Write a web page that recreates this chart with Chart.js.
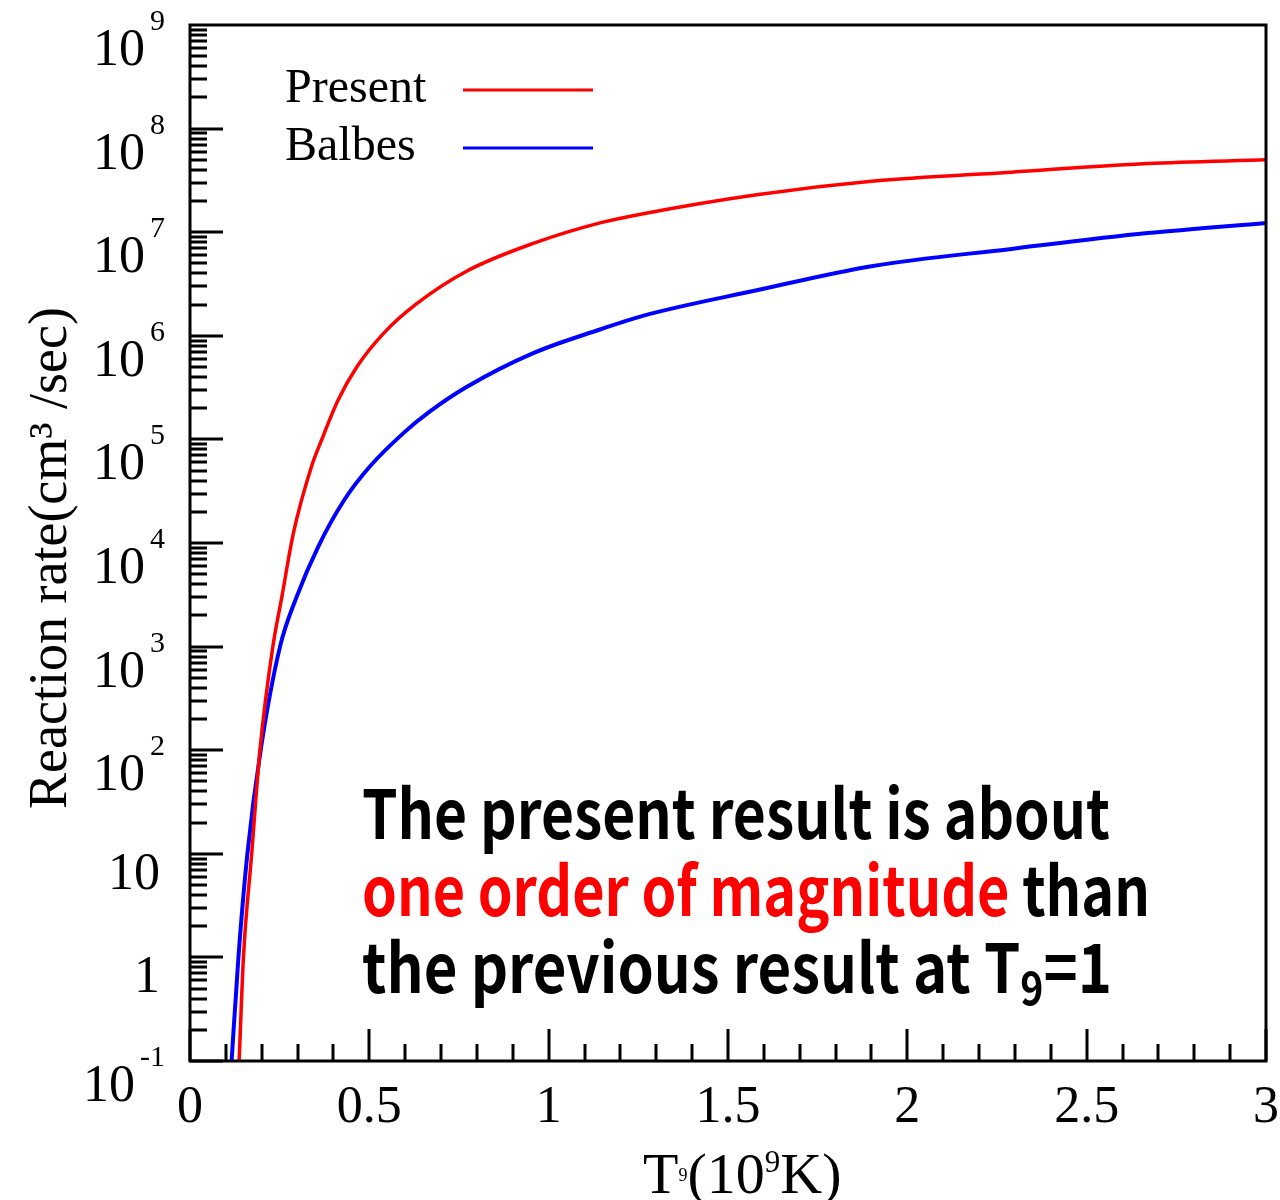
<!DOCTYPE html>
<html lang="en">
<head>
<meta charset="UTF-8">
<title>Reaction rate vs T9</title>
<script src="https://cdn.jsdelivr.net/npm/chart.js"></script>
<style>
  html, body { margin: 0; padding: 0; background: #fff; }
  #wrap { width: 1280px; height: 1200px; }
</style>
</head>
<body>
<div id="wrap"><canvas id="rateChart" width="1280" height="1200"></canvas></div>
<script>
  // values (T9 in 10^9 K, rate in cm3/sec)
  const presentT9   = [0.137, 0.149, 0.172, 0.195, 0.231, 0.256, 0.288, 0.339, 0.365, 0.413, 0.465, 0.539, 0.632, 0.771, 0.957, 1.143, 1.26, 1.58, 1.90, 2.29, 2.67, 3.0];
  const presentRate = [0.1, 1, 10, 100, 1000, 3000, 1.23e4, 5.5e4, 9.5e4, 2.4e5, 5.0e5, 1.05e6, 2.04e6, 4.2e6, 7.8e6, 1.23e7, 1.5e7, 2.3e7, 3.1e7, 3.8e7, 4.6e7, 5.0e7];
  const balbesT9    = [0.116, 0.135, 0.160, 0.197, 0.251, 0.297, 0.358, 0.430, 0.502, 0.595, 0.669, 0.771, 0.957, 1.143, 1.26, 1.58, 1.90, 2.29, 2.67, 3.0];
  const balbesRate  = [0.1, 1, 10, 100, 1000, 3.0e3, 9.3e3, 2.6e4, 5.5e4, 1.15e5, 1.86e5, 3.2e5, 6.8e5, 1.15e6, 1.55e6, 2.75e6, 4.7e6, 6.9e6, 9.8e6, 1.23e7];

  const seriesLabels = ['Present', 'Balbes'];
  const xTickLabels = ['0', '0.5', '1', '1.5', '2', '2.5', '3'];
  const yExponents = [-1, 0, 1, 2, 3, 4, 5, 6, 7, 8, 9];
  const xTitle = ['T', '9', '(10', '9', 'K)'];
  const yTitle = 'Reaction rate(cm³ /sec)';
  const noteLine1 = 'The present result is about';
  const noteLine2Red = 'one order of magnitude';
  const noteLine2 = ' than';
  const noteLine3 = 'the previous result at T';
  const noteSub = '9';
  const noteEnd = '=1';

  const SERIF = "'Liberation Serif', 'Times New Roman', serif";
  const GOTHIC = "'Noto Sans CJK JP', 'Noto Sans', sans-serif";

  function drawPow(ctx, e, y) {
    ctx.fillStyle = '#000';
    if (e === 0 || e === 1) {
      ctx.font = '52px ' + SERIF;
      ctx.textAlign = 'right';
      ctx.fillText(e === 0 ? '1' : '10', 160, y + 35);
      return;
    }
    const exp = String(e);
    ctx.font = '30px ' + SERIF;
    const ew = ctx.measureText(exp).width;
    ctx.textAlign = 'left';
    ctx.fillText(exp, 165 - ew, y + 5);
    ctx.font = '52px ' + SERIF;
    ctx.textAlign = 'right';
    ctx.fillText('10', 165 - ew - 5, y + 40);
  }

  const axesPlugin = {
    id: 'rootAxes',
    afterDatasetsDraw(chart) {
      const ctx = chart.ctx;
      const a = chart.chartArea;
      const xs = chart.scales.x, ys = chart.scales.y;
      ctx.save();
      ctx.strokeStyle = '#000';
      ctx.lineWidth = 3;
      ctx.strokeRect(a.left, a.top, a.right - a.left, a.bottom - a.top);

      // y ticks, inside, decades long
      ctx.beginPath();
      for (let e = -1; e <= 8; e++) {
        for (let m = 1; m <= 9; m++) {
          const y = Math.round(ys.getPixelForValue(m * Math.pow(10, e)));
          const len = m === 1 ? 33 : 17;
          ctx.moveTo(a.left, y);
          ctx.lineTo(a.left + len, y);
        }
      }
      // x ticks every 0.1
      for (let i = 0; i <= 30; i++) {
        const x = Math.round(xs.getPixelForValue(i / 10));
        const len = i % 5 === 0 ? 32 : 17;
        ctx.moveTo(x, a.bottom);
        ctx.lineTo(x, a.bottom - len);
      }
      ctx.stroke();
      ctx.restore();
    },
    afterDraw(chart) {
      const ctx = chart.ctx;
      const xs = chart.scales.x, ys = chart.scales.y;
      ctx.save();
      ctx.textBaseline = 'alphabetic';

      yExponents.forEach(e => drawPow(ctx, e, ys.getPixelForValue(Math.pow(10, e))));

      ctx.font = '52px ' + SERIF;
      ctx.textAlign = 'center';
      xTickLabels.forEach(t => ctx.fillText(t, xs.getPixelForValue(parseFloat(t)), 1122));

      // x title with sub/superscripts
      ctx.textAlign = 'left';
      const base = 1193;
      const parts = [
        { t: xTitle[0], f: '58px', dy: 0 },
        { t: xTitle[1], f: '18px', dy: -12 },
        { t: xTitle[2], f: '58px', dy: 0 },
        { t: xTitle[3], f: '31px', dy: -21 },
        { t: xTitle[4], f: '58px', dy: 0 }
      ];
      let x = 643;
      parts.forEach(p => {
        ctx.font = p.f + ' ' + SERIF;
        ctx.fillText(p.t, x, base + p.dy);
        x += ctx.measureText(p.t).width;
      });

      // y title
      ctx.save();
      ctx.translate(52, 558);
      ctx.rotate(-Math.PI / 2);
      ctx.textAlign = 'center';
      ctx.textBaseline = 'middle';
      ctx.font = '54px ' + SERIF;
      ctx.fillText(yTitle, 0, 0);
      ctx.restore();

      // legend: label then line sample
      ctx.textAlign = 'left';
      ctx.font = '48px ' + SERIF;
      chart.data.datasets.forEach((ds, i) => {
        const ty = 102 + i * 58;
        ctx.fillStyle = '#000';
        ctx.fillText(ds.label, 285, ty);
        ctx.strokeStyle = ds.borderColor;
        ctx.lineWidth = 3;
        ctx.beginPath();
        ctx.moveTo(463, 90 + i * 58);
        ctx.lineTo(593, 90 + i * 58);
        ctx.stroke();
      });

      // annotation, each line squeezed to the width it has in the figure
      const F = 'bold 68px ' + GOTHIC;
      function runs(list, baseline, width) {
        let total = 0;
        list.forEach(r => { ctx.font = r.font || F; total += ctx.measureText(r.text).width; });
        const sx = width / total;
        ctx.save();
        ctx.translate(362, baseline);
        ctx.scale(sx, 1);
        let px = 0;
        list.forEach(r => {
          ctx.font = r.font || F;
          ctx.fillStyle = r.color || '#000';
          ctx.fillText(r.text, px, r.dy || 0);
          px += ctx.measureText(r.text).width;
        });
        ctx.restore();
      }
      runs([{ text: noteLine1 }], 839, 748);
      runs([{ text: noteLine2Red, color: '#ff0000' }, { text: noteLine2 }], 916, 788);
      runs([{ text: noteLine3 }, { text: noteSub, font: 'bold 46px ' + GOTHIC, dy: 12 }, { text: noteEnd, font: 'bold 68px ' + GOTHIC }], 993, 750);

      ctx.restore();
    }
  };

  new Chart(document.getElementById('rateChart'), {
    type: 'line',
    data: {
      datasets: [
        {
          label: seriesLabels[0],
          data: presentT9.map((t, i) => ({ x: t, y: presentRate[i] })),
          borderColor: '#ff0000',
          borderWidth: 3.5,
          pointRadius: 0,
          cubicInterpolationMode: 'monotone',
          fill: false
        },
        {
          label: seriesLabels[1],
          data: balbesT9.map((t, i) => ({ x: t, y: balbesRate[i] })),
          borderColor: '#0000ff',
          borderWidth: 4,
          pointRadius: 0,
          cubicInterpolationMode: 'monotone',
          fill: false
        }
      ]
    },
    options: {
      responsive: false,
      animation: false,
      devicePixelRatio: 1,
      layout: { padding: { left: 190, top: 25, right: 14, bottom: 139 } },
      plugins: { legend: { display: false }, tooltip: { enabled: false } },
      scales: {
        x: { type: 'linear', min: 0, max: 3, display: false },
        y: { type: 'logarithmic', min: 0.1, max: 1e9, display: false }
      }
    },
    plugins: [axesPlugin]
  });
</script>
</body>
</html>
